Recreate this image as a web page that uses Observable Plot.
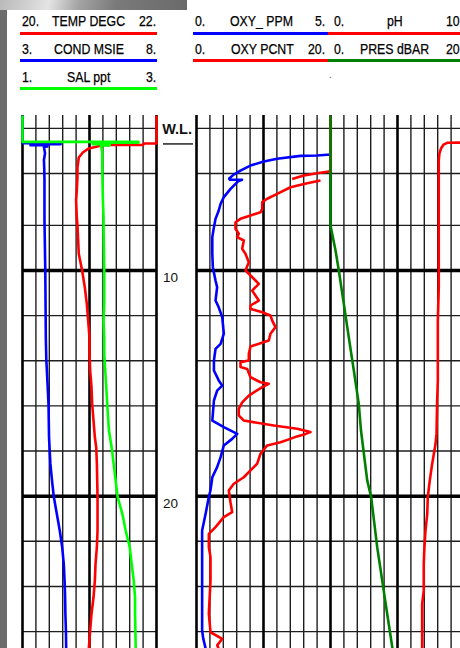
<!DOCTYPE html>
<html>
<head>
<meta charset="utf-8">
<script src="https://cdn.jsdelivr.net/npm/d3@7"></script>
<script src="https://cdn.jsdelivr.net/npm/@observablehq/plot@0.6"></script>
<style>
  html, body { margin: 0; padding: 0; background: #fff; width: 460px; height: 648px; overflow: hidden; }
  #page { position: relative; width: 460px; height: 648px; font-family: "Liberation Sans", Arial, sans-serif; }
  #legend { position: absolute; left: 0; top: 0; width: 460px; height: 115px; }
  #chart { position: absolute; left: 0; top: 115px; width: 460px; height: 533px; }
  .lab { position: absolute; font-size: 14.5px; line-height: 14px; white-space: nowrap; color: #000;
         -webkit-text-stroke: 0.25px #000; transform-origin: 0 50%; }
  .key { position: absolute; height: 3px; }
  #edge { position: absolute; left: 0; top: 0; width: 7px; height: 648px; background: #6c6c6c; z-index: 5; }
  #corner { position: absolute; left: 0; top: 0; width: 187px; height: 10px; z-index: 6;
    background: linear-gradient(100deg, #b9b9b9 0%, #d6d6d6 18%, #e4e4e4 26%, #a4a4a4 42%, #7a7a7a 62%, #6a6a6a 100%); }
</style>
</head>
<body>
<div id="page">
  <div id="legend"></div>
  <div id="chart"></div>
  <div id="edge"></div>
  <div id="corner"></div>
</div>
<script>
// Tracks of the CTD profile and their full-scale ranges
const seriesNames = ["TEMP DEGC", "COND MSIE", "SAL ppt", "OXY_ PPM", "OXY PCNT", "pH", "PRES dBAR"];
const rangeLow    = [20, 3, 1, 0, 0, 0, 0];
const rangeHigh   = [22, 8, 3, 5, 20, 10, 20];
const lowLabels   = ["20.", "3.", "1.", "0.", "0.", "0.", "0."];
const highLabels  = ["22.", "8.", "3.", "5.", "20.", "10", "20"];

// Depth grid and labels
const depthTop = 3.13;
const depthBottom = 26.75;
const depthGrid = [3.7, 5.7, 8, 10, 12, 14, 16, 18, 20, 22, 24, 26];
const depthMajor = [10, 20];
const waterLevel = 4.39;

// Profiles: [depth, value]; null marks a pen lift
const temp = [[3.13,22.00],[4.37,22.00],[4.37,21.81],[4.44,21.80],[4.44,21.21],[4.59,20.99],[4.77,20.90],[4.99,20.84],[5.44,20.82],[5.88,20.82],[6.46,20.81],[6.90,20.80],[7.64,20.81],[8.00,20.82],[9.26,20.84],[10.00,20.89],[10.74,20.93],[11.48,20.96],[12.22,20.98],[12.96,21.00],[13.69,21.00],[14.43,21.01],[15.17,21.03],[15.91,21.04],[16.65,21.06],[17.39,21.08],[17.83,21.10],[18.56,21.11],[20.04,21.12],[21.52,21.12],[22.26,21.11],[23.00,21.09],[23.74,21.08],[24.48,21.06],[25.21,21.03],[25.95,21.01],[26.75,20.99]];
const cond = [[3.13,3.00],[4.36,3.00],[4.36,4.42],[4.40,4.42],[4.40,3.30],[4.45,3.30],[4.45,3.93],[4.50,3.93],[4.52,3.80],[4.80,3.84],[5.10,3.80],[5.42,3.81],[6.00,3.82],[6.90,3.82],[7.78,3.82],[8.50,3.83],[9.26,3.84],[10.00,3.85],[11.48,3.86],[12.96,3.87],[14.00,3.89],[14.43,3.91],[15.17,3.94],[15.91,3.97],[16.65,3.98],[17.39,3.99],[18.56,4.04],[19.30,4.10],[20.04,4.17],[20.78,4.28],[21.52,4.39],[22.26,4.48],[23.00,4.54],[23.74,4.57],[24.48,4.59],[25.21,4.60],[25.95,4.62],[26.75,4.63]];
const sal = [[3.13,1.00],[4.30,1.00],[4.30,2.73],[4.34,2.73],[4.34,2.05],[4.40,2.05],[4.40,2.30],[4.46,2.30],[4.46,2.17],[4.55,2.18],[4.80,2.19],[5.42,2.19],[6.90,2.20],[7.64,2.21],[8.00,2.21],[10.00,2.22],[11.48,2.22],[12.22,2.21],[12.96,2.22],[13.69,2.22],[15.17,2.25],[16.65,2.28],[17.09,2.29],[17.83,2.33],[18.56,2.36],[19.30,2.39],[20.04,2.42],[20.78,2.49],[21.52,2.54],[22.26,2.60],[23.00,2.63],[23.74,2.66],[24.48,2.68],[25.21,2.68],[26.75,2.69]];
const oxyPpm = [[3.13,5.00],[4.86,5.00],[4.90,4.50],[4.92,3.88],[5.05,3.01],[5.17,2.51],[5.35,2.01],[5.57,1.64],[5.75,1.39],[5.92,1.22],[5.98,1.24],[5.98,1.70],[6.05,1.55],[6.38,1.27],[6.75,1.02],[7.04,0.90],[7.34,0.83],[7.71,0.71],[8.08,0.65],[8.52,0.59],[8.97,0.59],[9.26,0.59],[9.85,0.61],[10.44,0.71],[10.74,0.77],[11.33,0.71],[11.63,0.83],[12.07,0.96],[12.80,1.02],[13.25,0.90],[13.47,0.71],[13.99,0.65],[14.43,0.65],[14.87,0.83],[15.10,0.96],[15.32,0.77],[15.76,0.65],[16.65,0.59],[16.94,1.02],[17.16,1.39],[17.24,1.52],[17.46,1.33],[17.75,1.02],[18.27,0.90],[18.71,0.77],[19.16,0.59],[19.75,0.52],[20.04,0.46],[20.78,0.34],[21.52,0.21],[22.26,0.21],[23.00,0.21],[24.48,0.21],[25.95,0.21],[26.30,0.25],[26.75,0.34]];
const oxyPcnt = [[3.13,20.00],[5.60,20.00],[5.69,18.01],[5.79,16.01],[5.94,14.28],[5.97,null],[6.01,18.51],[6.13,16.52],[6.31,14.03],[6.60,12.04],[6.82,10.55],[6.97,9.81],[7.27,9.81],[7.42,9.55],[7.56,8.06],[7.71,6.57],[7.86,5.82],[8.15,5.82],[8.37,6.31],[8.52,6.07],[8.67,7.06],[9.04,6.82],[9.26,7.31],[9.63,7.81],[10.00,7.31],[10.22,8.06],[10.44,8.81],[10.59,9.30],[10.89,8.31],[11.33,9.30],[11.55,8.06],[11.70,8.06],[11.85,9.81],[11.99,11.04],[12.22,11.30],[12.51,11.79],[12.80,11.04],[13.10,10.79],[13.37,8.06],[13.69,7.81],[13.99,7.81],[14.06,6.57],[14.28,6.57],[14.36,7.57],[14.73,8.06],[14.95,9.55],[15.02,10.79],[15.17,9.81],[15.54,7.81],[15.84,6.82],[16.13,6.31],[16.42,6.31],[16.65,7.06],[16.87,11.54],[17.01,15.03],[17.16,17.01],[17.24,16.30],[17.35,15.00],[17.46,14.00],[17.61,12.54],[17.75,10.55],[18.12,9.55],[18.56,9.06],[18.86,8.06],[19.16,7.06],[19.45,5.57],[19.75,4.82],[20.27,5.07],[20.71,5.33],[20.93,4.07],[21.37,2.84],[21.67,1.84],[22.26,1.84],[22.70,2.09],[23.74,2.09],[25.21,1.84],[26.03,2.09],[26.32,3.84],[26.61,3.09],[26.75,3.30]];
const ph = [[3.13,10.00],[4.33,10.00],[4.34,8.71],[4.42,8.43],[4.59,8.25],[4.81,8.13],[5.13,8.08],[5.57,8.08],[8.00,8.08],[10.00,8.08],[10.74,8.08],[12.22,8.01],[14.87,8.01],[15.76,7.96],[17.24,7.91],[17.68,7.84],[18.56,7.59],[19.30,7.41],[20.04,7.26],[20.78,7.22],[21.52,7.09],[22.26,7.01],[23.00,6.96],[24.18,6.96],[24.77,6.84],[26.75,6.84]];
const pres = [[3.13,0.00],[8.00,0.00],[8.37,0.25],[9.11,0.75],[10.00,1.24],[11.48,1.99],[12.96,2.73],[14.43,3.48],[15.91,4.22],[17.09,4.55],[19.30,5.48],[20.04,6.07],[22.26,6.97],[23.74,7.72],[25.21,8.46],[26.75,9.25]];

const profiles = [temp, cond, sal, oxyPpm, oxyPcnt, ph, pres];

// ---- styling and layout ----
const colors = ["#ff0000", "#0000ff", "#00ff00", "#0000ff", "#ff0000", "#ff0000", "#008000"];
const seriesPanel = [0, 0, 0, 1, 1, 2, 2];
const panelStart = [0, 1.2985, 2.2985];   // track units; each panel is 1 wide
const drawOrder = [3, 4, 5, 6, 0, 1, 2];

const toTrack = (i, v) => (v == null ? NaN :
  panelStart[seriesPanel[i]] + (v - rangeLow[i]) / (rangeHigh[i] - rangeLow[i]));

// vertical grid positions (track units)
const thinX = [], thickX = [];
for (const p of new Set(panelStart)) {
  for (let k = 0; k <= 10; k++) {
    const u = +(p + k / 10).toFixed(4);
    (k % 5 === 0 ? thickX : thinX).push(u);
  }
}
const uniq = a => Array.from(new Set(a));
const thickXs = uniq(thickX);
const thinXs = uniq(thinX).filter(u => !thickXs.some(t => Math.abs(t - u) < 1e-3));

const panelSpans = [[0, 1], [1.2985, 3.2985]];
const hRules = depthGrid.flatMap(d => panelSpans.map(([a, b]) => ({depth: d, a, b, major: depthMajor.includes(d)})));

const lineMarks = drawOrder.map(i => Plot.line(
  profiles[i].map(([depth, v]) => ({depth, u: toTrack(i, v)})),
  {x: "u", y: "depth", stroke: colors[i], strokeWidth: 2.6, strokeLinejoin: "round", strokeLinecap: "butt"}
));

const chart = Plot.plot({
  width: 460,
  height: 533,
  marginTop: 0, marginBottom: 0, marginLeft: 0, marginRight: 0,
  x: {domain: [0, 3.2985], range: [22, 464], axis: null},
  y: {domain: [depthTop, depthBottom], range: [0, 533], axis: null},
  style: {background: "transparent", overflow: "visible"},
  marks: [
    Plot.ruleX(thinXs, {x: d => d, y1: () => depthTop, y2: () => depthBottom, stroke: "#1e1e1e", strokeWidth: 1.4}),
    Plot.ruleY(hRules.filter(r => !r.major), {y: "depth", x1: "a", x2: "b", stroke: "#1e1e1e", strokeWidth: 1.4}),
    Plot.ruleX(thickXs, {x: d => d, y1: () => depthTop, y2: () => depthBottom, stroke: "#000", strokeWidth: 2.6}),
    Plot.ruleY(hRules.filter(r => r.major), {y: "depth", x1: "a", x2: "b", stroke: "#000", strokeWidth: 3.5}),
    ...lineMarks,
    // water level marker
    Plot.text([waterLevel], {x: () => 1.042, y: () => 3.76, text: () => "W.L.", textAnchor: "start",
      fontSize: 14.5, fontWeight: "bold", fontFamily: "Liberation Sans, Arial, sans-serif", fill: "#111"}),
    Plot.ruleY([waterLevel], {y: d => d, x1: () => 1.052, x2: () => 1.276, stroke: "#111", strokeWidth: 1.4}),
    // depth labels
    Plot.text(depthMajor, {x: () => 1.048, y: d => d, text: d => String(d), textAnchor: "start", dy: 7.5,
      fontSize: 13.5, fontFamily: "Liberation Sans, Arial, sans-serif", fill: "#111"})
  ]
});
document.getElementById("chart").appendChild(chart);

// ---- legend header ----
const legend = document.getElementById("legend");
const columns = [
  {l: 22, c: 88.5, r: 156.5, k1: 20, k2: 157},
  {l: 195, c: 262, r: 325, k1: 193, k2: 328},
  {l: 334, c: 395, r: 460, k1: 328, k2: 460}
];
const seriesColumn = [0, 0, 0, 1, 1, 2, 2];
const seriesRow = [0, 1, 2, 0, 1, 0, 1];
const rowTextY = [21, 49, 77];
const rowKeyY = [32, 59, 87];
const squeeze = 0.85;

function place(text, x, y, anchor) {
  const s = document.createElement("span");
  s.className = "lab";
  s.textContent = text;
  legend.appendChild(s);
  const w = s.getBoundingClientRect().width * squeeze;
  const left = anchor === "start" ? x : anchor === "end" ? x - w : x - w / 2;
  s.style.left = left + "px";
  s.style.top = (y - 7) + "px";
  s.style.transform = `scaleX(${squeeze})`;
}

seriesNames.forEach((name, i) => {
  const col = columns[seriesColumn[i]];
  const y = rowTextY[seriesRow[i]];
  place(lowLabels[i], col.l, y, "start");
  place(name, col.c, y, "middle");
  place(highLabels[i], col.r, y, "end");
  const k = document.createElement("div");
  k.className = "key";
  k.style.left = col.k1 + "px";
  k.style.width = (col.k2 - col.k1) + "px";
  k.style.top = rowKeyY[seriesRow[i]] + "px";
  k.style.background = colors[i];
  legend.appendChild(k);
});

// stray mark under the legend
const dot = document.createElement("span");
dot.className = "lab";
dot.textContent = ".";
dot.style.left = "329px";
dot.style.top = "68px";
dot.style.fontSize = "10px";
dot.style.color = "#666";
dot.style.webkitTextStroke = "0px";
legend.appendChild(dot);
</script>
</body>
</html>
